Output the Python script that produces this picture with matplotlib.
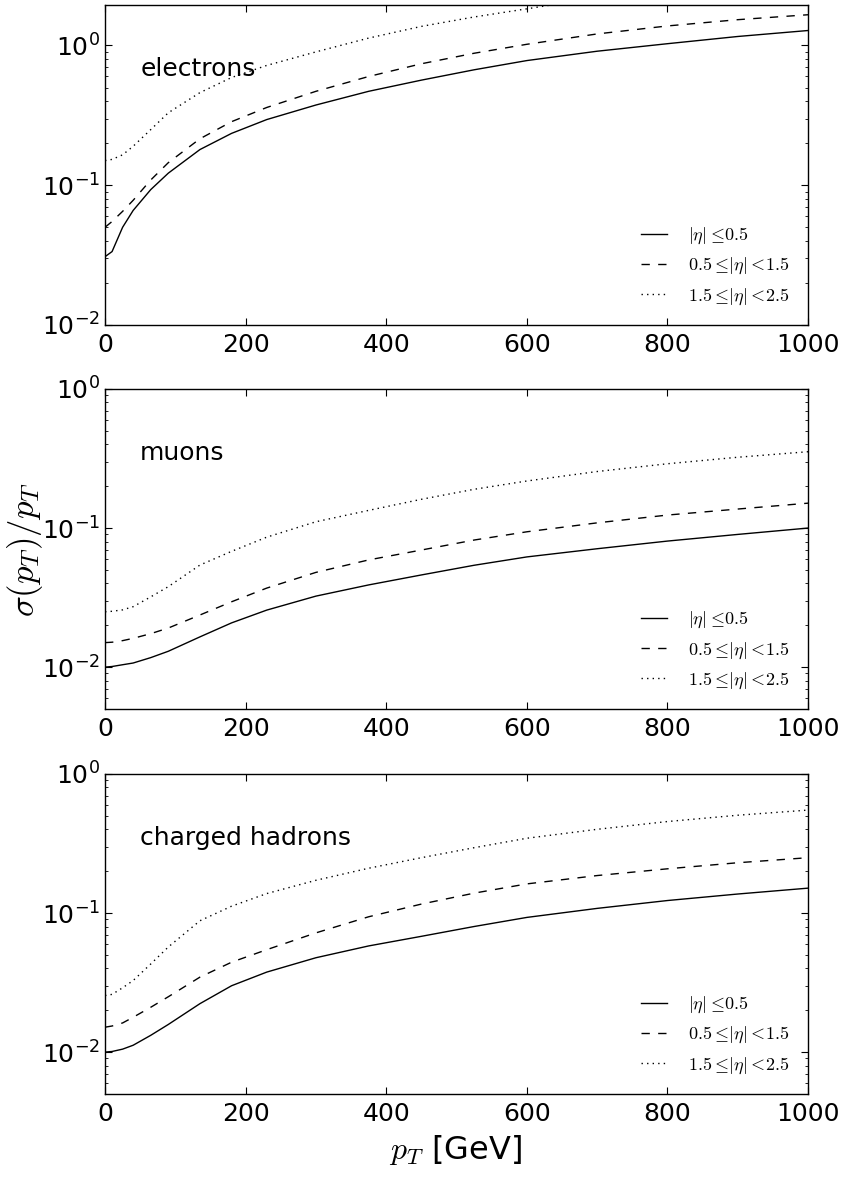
import matplotlib
matplotlib.use("Agg")
import matplotlib.pyplot as plt
from matplotlib.font_manager import FontProperties

# transverse momentum points [GeV]
pt = [0, 10, 25, 40, 65, 90, 135, 180, 230, 300, 375, 450, 525, 600, 700, 800, 900, 1000]

# sigma(pT)/pT, per |eta| bin
ele_central = [0.0308, 0.0335, 0.050, 0.066, 0.093, 0.122, 0.18, 0.235, 0.295, 0.375,
               0.47, 0.565, 0.67, 0.78, 0.91, 1.03, 1.16, 1.28]
ele_barrel = [0.050, 0.055, 0.065, 0.078, 0.109, 0.145, 0.215, 0.285, 0.36, 0.47,
              0.60, 0.74, 0.88, 1.02, 1.21, 1.38, 1.53, 1.66]
ele_endcap = [0.150, 0.153, 0.165, 0.19, 0.25, 0.33, 0.46, 0.59, 0.72, 0.90,
              1.13, 1.37, 1.60, 1.83, 2.2, 2.5, 2.8, 3.1]

mu_central = [0.0100, 0.0101, 0.0104, 0.0107, 0.0117, 0.0130, 0.0165, 0.0208, 0.0257, 0.0324,
              0.039, 0.046, 0.054, 0.062, 0.071, 0.0806, 0.090, 0.100]
mu_barrel = [0.0150, 0.0151, 0.0155, 0.0161, 0.0174, 0.0191, 0.0237, 0.0295, 0.037, 0.048,
             0.059, 0.0695, 0.082, 0.094, 0.109, 0.124, 0.137, 0.151]
mu_endcap = [0.0250, 0.0252, 0.0258, 0.0272, 0.032, 0.0379, 0.0542, 0.068, 0.086, 0.111,
             0.134, 0.161, 0.19, 0.218, 0.255, 0.29, 0.323, 0.354]

had_central = [0.0100, 0.0101, 0.0105, 0.0112, 0.0132, 0.0158, 0.0223, 0.0300, 0.0376, 0.0477,
               0.058, 0.068, 0.080, 0.093, 0.108, 0.123, 0.137, 0.151]
had_barrel = [0.0151, 0.0154, 0.0162, 0.0178, 0.021, 0.025, 0.0346, 0.0443, 0.0545, 0.072,
              0.094, 0.116, 0.139, 0.162, 0.186, 0.208, 0.23, 0.25]
had_endcap = [0.0255, 0.026, 0.029, 0.0327, 0.043, 0.057, 0.088, 0.112, 0.138, 0.172,
              0.21, 0.25, 0.295, 0.345, 0.40, 0.455, 0.505, 0.55]

labels = [r'$|\eta|\leq\!0.5$', r'$0.5\leq\!|\eta|<\!1.5$', r'$1.5\leq\!|\eta|<\!2.5$']
dash_patterns = [None, (6, 6), (1, 3)]
panels = [
    ("electrons", [ele_central, ele_barrel, ele_endcap], (0.01, 1.95)),
    ("muons", [mu_central, mu_barrel, mu_endcap], (0.005, 1.0)),
    ("charged hadrons", [had_central, had_barrel, had_endcap], (0.005, 1.0)),
]

fig = plt.figure(figsize=(8.43, 11.82), dpi=100)
fig.patch.set_facecolor('white')

left, width, height = 0.1246, 0.834, 0.2707
bottoms = [0.7251, 0.4002, 0.0745]

leg_font = FontProperties(size=13, math_fontfamily='cm')

for (name, series, ylim), b in zip(panels, bottoms):
    ax = fig.add_axes([left, b, width, height])
    for ys, dp, lab in zip(series, dash_patterns, labels):
        if dp is None:
            ax.plot(pt, ys, color='black', linestyle='-', lw=1.0, label=lab)
        else:
            ax.plot(pt, ys, color='black', linestyle='--', dashes=dp, lw=1.0, label=lab)
    ax.set_yscale('log')
    ax.set_xlim(0, 1000)
    ax.set_ylim(*ylim)
    ax.set_xticks([0, 200, 400, 600, 800, 1000])
    ax.tick_params(which='both', direction='in', top=True, right=True, labelsize=18)
    ax.tick_params(which='major', length=5, width=0.8)
    ax.tick_params(which='minor', length=2.5, width=0.6)
    ax.tick_params(axis='x', pad=6)
    for sp in ax.spines.values():
        sp.set_linewidth(1.0)
    ax.text(0.05, 0.8, name, transform=ax.transAxes, fontsize=18, va='center')
    ax.legend(loc='lower right', frameon=False, prop=leg_font, handlelength=1.4,
              handletextpad=1.2, labelspacing=0.55, borderaxespad=0.6)

fig.text(0.030, 0.535, r'$\sigma(p_T)/p_T$', rotation=90, fontsize=25,
         math_fontfamily='cm', ha='center', va='center')
fig.text(0.54, 0.027, r'$p_T$ [GeV]', fontsize=23, math_fontfamily='cm',
         ha='center', va='center')

fig.savefig('out.png', dpi=100)
